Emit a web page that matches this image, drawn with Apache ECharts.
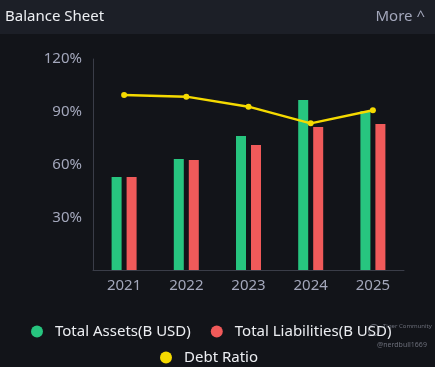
<!DOCTYPE html>
<html>
<head>
<meta charset="utf-8">
<script src="https://cdn.jsdelivr.net/npm/echarts@6/dist/echarts.min.js"></script>
<style>
html,body{margin:0;padding:0;background:#121419;}
#c{width:435px;height:367px;}
</style>
</head>
<body>
<div id="c"></div>
<script>
const categories = ['2021', '2022', '2023', '2024', '2025'];
const totalAssets = [52.9, 63.1, 76.2, 96.7, 90.4];
const totalLiabilities = [52.9, 62.6, 71.1, 81.3, 83.0];
const debtRatio = [99.5, 98.6, 92.9, 83.4, 90.8];
const yTicks = [0, 30, 60, 90, 120];

const chart = echarts.init(document.getElementById('c'), null, {renderer: 'canvas'});
const font = '"Noto Sans", "Open Sans", sans-serif';
chart.setOption({
  backgroundColor: '#121419',
  animation: false,
  graphic: [
    {type: 'rect', left: 0, top: 0, shape: {width: 435, height: 34}, style: {fill: '#1c1f27'}, z: 0},
    {type: 'text', left: 5, top: 9, style: {text: 'Balance Sheet', fill: '#eceef2', font: '15px ' + font}},
    {type: 'text', right: 10, top: 9, style: {text: 'More ^', fill: '#a3a7bb', font: '15px ' + font}},
    {type: 'circle', left: 366, top: 322, shape: {r: 5.5}, style: {fill: 'none', stroke: '#6a6d78', lineWidth: 1}},
    {type: 'text', left: 383, top: 323, style: {text: 'Tiger Community', fill: '#6a6d78', font: '6px ' + font}},
    {type: 'text', left: 377, top: 341, style: {text: '@nerdbull1669', fill: '#6a6d78', font: '7px ' + font}}
  ],
  grid: {left: 93, right: 31, top: 59, bottom: 97},
  legend: [
    {
      data: ['Total Assets(B USD)', 'Total Liabilities(B USD)'],
      left: 26, top: 319, icon: 'circle', itemWidth: 26, itemHeight: 12, itemGap: 20,
      textStyle: {color: '#eceef2', fontSize: 15, fontFamily: font}
    },
    {
      data: ['Debt Ratio'],
      left: 155, top: 345, icon: 'circle', itemWidth: 26, itemHeight: 12,
      textStyle: {color: '#eceef2', fontSize: 15, fontFamily: font}
    }
  ],
  xAxis: {
    type: 'category', data: categories,
    axisLine: {lineStyle: {color: '#3a3d48'}},
    axisTick: {show: false},
    axisLabel: {color: '#a3a7bb', fontSize: 15, fontFamily: font, margin: 8}
  },
  yAxis: [
    {
      type: 'value', min: 0, max: 120, interval: 30,
      axisLine: {show: true, lineStyle: {color: '#3a3d48'}},
      axisTick: {show: false},
      splitLine: {show: false},
      axisLabel: {color: '#a3a7bb', fontSize: 15, fontFamily: font, margin: 11,
        formatter: v => (v === 0 ? '' : v + '%')}
    },
    {type: 'value', min: 0, max: 120, show: false}
  ],
  series: [
    {name: 'Total Assets(B USD)', type: 'bar', yAxisIndex: 1, data: totalAssets, barWidth: 10, barGap: '50%',
      itemStyle: {color: '#27c57f'}},
    {name: 'Total Liabilities(B USD)', type: 'bar', yAxisIndex: 1, data: totalLiabilities, barWidth: 10, barGap: '50%',
      itemStyle: {color: '#f05a5a'}},
    {name: 'Debt Ratio', type: 'line', yAxisIndex: 0, data: debtRatio, symbol: 'circle', symbolSize: 6,
      lineStyle: {color: '#f5da00', width: 2.5}, itemStyle: {color: '#f5da00'}, z: 5}
  ]
});
</script>
</body>
</html>
